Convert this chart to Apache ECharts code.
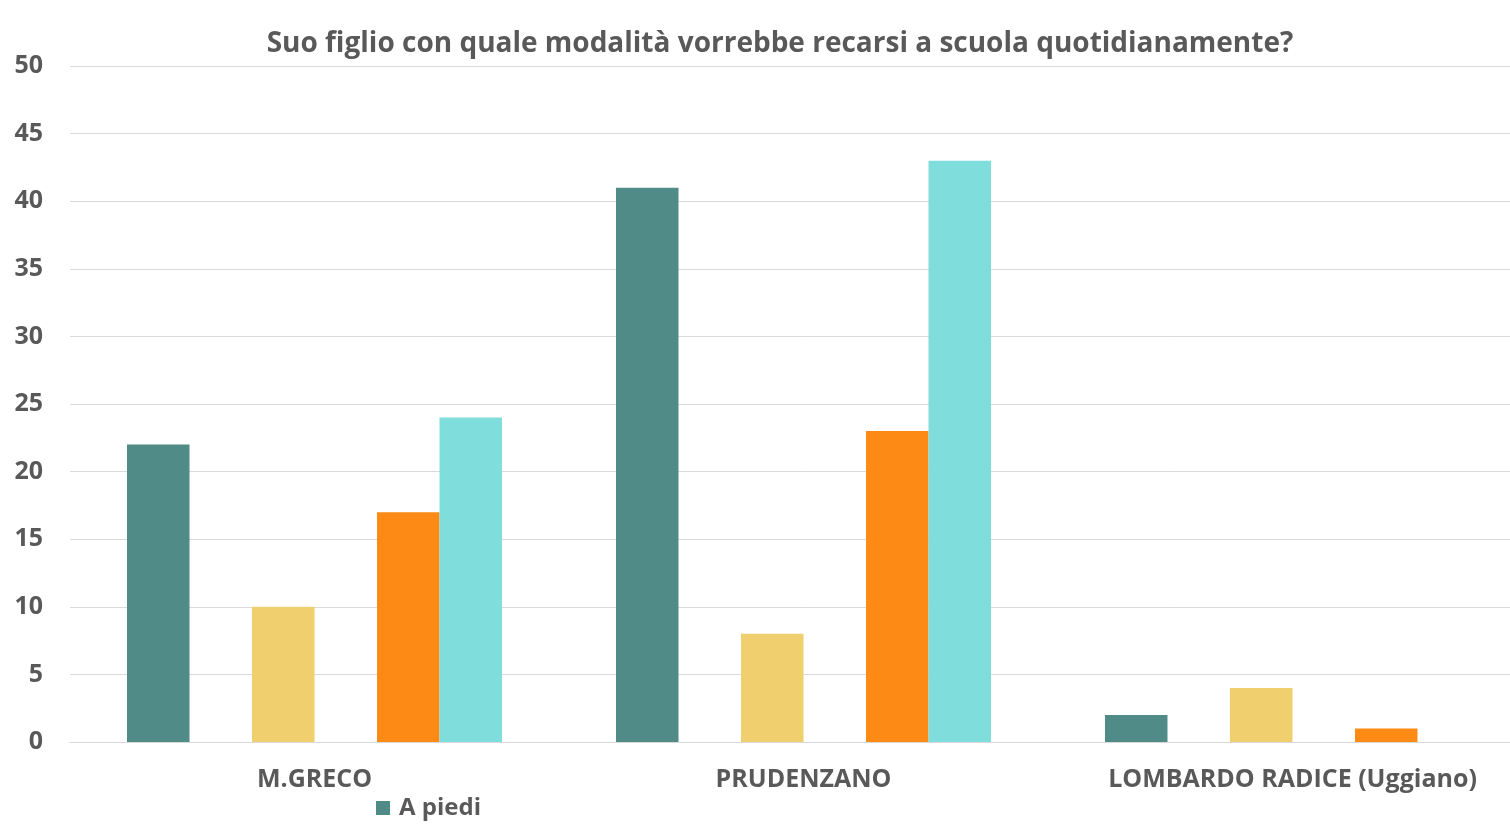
<!DOCTYPE html>
<html><head><meta charset="utf-8">
<script src="https://cdn.jsdelivr.net/npm/echarts@6/dist/echarts.min.js"></script>
<style>html,body{margin:0;padding:0;background:#fff;overflow:hidden;width:1510px;height:830px}#c{width:1537px;height:830px}</style>
</head><body><div id="c"></div>
<script>
const categories = ['M.GRECO', 'PRUDENZANO', 'LOMBARDO RADICE (Uggiano)'];
const seriesNames = ['A piedi', 'In bicicletta', 'In auto', 'In monopattino', 'Con lo scuolabus', 'Con i mezzi pubblici'];
const aPiedi = [22, 41, 2];
const serie2 = [0, 0, 0];
const serie3 = [10, 8, 4];
const serie4 = [0, 0, 0];
const serie5 = [17, 23, 1];
const serie6 = [24, 43, 0];
const yTicks = [0, 5, 10, 15, 20, 25, 30, 35, 40, 45, 50];

const colors = ['#508B87', '#4A7FA8', '#F0CF6E', '#B0B0B0', '#FD8A15', '#7FDEDC'];
const values = [aPiedi, serie2, serie3, serie4, serie5, serie6];
const font = '"Open Sans", "Liberation Sans", sans-serif';

const chart = echarts.init(document.getElementById('c'));
chart.setOption({
  animation: false,
  title: {
    text: 'Suo figlio con quale modalità vorrebbe recarsi a scuola quotidianamente?',
    left: 775, top: 25, textAlign: 'center',
    textStyle: {fontFamily: font, fontWeight: 'bold', fontSize: 28, color: '#595959'}
  },
  legend: {
    data: ['A piedi'],
    left: 371, top: 791,
    itemWidth: 14, itemHeight: 14, icon: 'rect', itemGap: 8,
    textStyle: {fontFamily: font, fontWeight: 'bold', fontSize: 24, color: '#595959', padding: [0, 0, 0, 4]}
  },
  grid: {left: 70, top: 66, right: 0, bottom: 88, containLabel: false},
  xAxis: {
    type: 'category', data: categories,
    axisLine: {show: true, lineStyle: {color: '#D9D9D9', width: 1}},
    axisTick: {show: false},
    axisLabel: {margin: 25, fontFamily: font, fontWeight: 'bold', fontSize: 25, color: '#595959'}
  },
  yAxis: {
    type: 'value', min: 0, max: 50, interval: 5,
    axisLine: {show: false}, axisTick: {show: false},
    splitLine: {lineStyle: {color: '#D9D9D9', width: 1}},
    axisLabel: {margin: 27, fontFamily: font, fontWeight: 'bold', fontSize: 25, color: '#595959',
      formatter: v => yTicks.includes(v) ? String(v) : ''}
  },
  series: seriesNames.map((n, i) => ({
    name: n, type: 'bar', data: values[i],
    barWidth: 62.5, barGap: '0%',
    itemStyle: {color: colors[i]}
  }))
});
</script></body></html>
